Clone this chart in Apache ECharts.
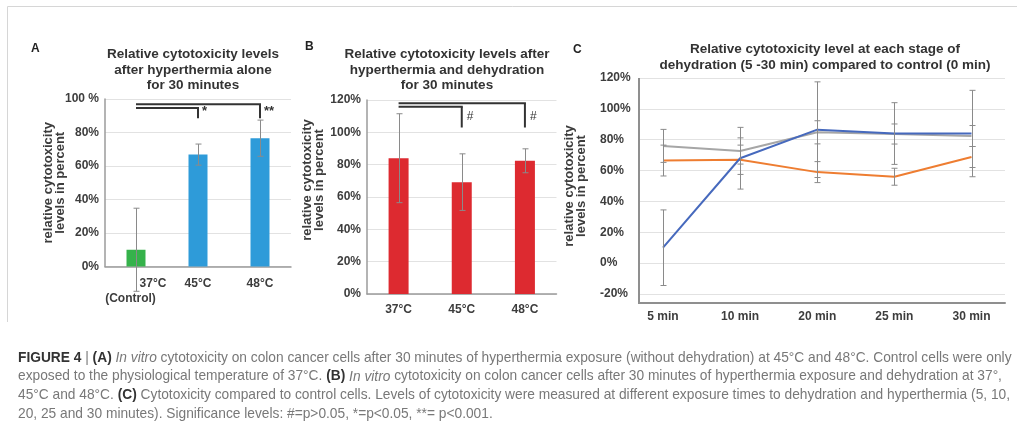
<!DOCTYPE html>
<html>
<head>
<meta charset="utf-8">
<script src="https://cdn.jsdelivr.net/npm/echarts@6/dist/echarts.min.js"></script>
<style>
  html, body { margin: 0; padding: 0; background: #fff; }
  #chart { width: 1017px; height: 430px; }
</style>
</head>
<body>
<div id="chart"></div>
<script>
// ---- Panel A: hyperthermia alone, 30 minutes ----
const tempsA = ['37°C\n(Control)', '45°C', '48°C'];
const meanA = [10, 66.8, 76.6];
const errA = [24.8, 6.3, 10.8];
const sigA = ['', '*', '**'];
const ticksA = ['0%', '20%', '40%', '60%', '80%', '100 %'];

// ---- Panel B: hyperthermia and dehydration, 30 minutes ----
const tempsB = ['37°C', '45°C', '48°C'];
const meanB = [84, 69.2, 82.4];
const errB = [27.5, 17.5, 7.4];
const sigB = ['', '#', '#'];
const ticksB = ['0%', '20%', '40%', '60%', '80%', '100%', '120%'];

// ---- Panel C: each dehydration stage vs control ----
const timesC = ['5 min', '10 min', '20 min', '25 min', '30 min'];
const blueC = [10, 68, 86.5, 84, 84];
const blueErrC = [24.5, 20, 31, 20, 28];
const orangeC = [66.5, 67, 59, 56, 68.8];
const orangeErrC = [10, 9.5, 6.8, 5.5, 6.8];
const grayC = [76, 72.7, 84.8, 83.7, 82.4];
const grayErrC = [10.7, 8.5, 7.5, 6.5, 6.8];
const ticksC = ['-20%', '0%', '20%', '40%', '60%', '80%', '100%', '120%'];

const FONT = '"Liberation Sans", Arial, sans-serif';
const TXT = '#3d3d3d';
const AXIS = '#9b9b9b';
const GRIDLINE = '#e2e2e2';
const ERR = '#8a8a8a';

// plot areas
const gA = { left: 105, top: 99, width: 186, height: 167.5 };
const gB = { left: 367, top: 100, width: 189.5, height: 194 };
const gCf = { left: 639, top: 78, width: 366, height: 216 };   // frame: gridlines + y axis
const gCd = { left: 663, top: 78, width: 308.5, height: 216 }; // data points
const C_AXIS_DROP = 9; // x axis line sits a little below the lowest gridline

function tickFormatter(labels, min, step) {
  return v => labels[Math.round((v - min) / step)] ?? '';
}

function valueAxis(gridIndex, min, max, labels, extra) {
  return Object.assign({
    gridIndex, type: 'value', min, max, interval: 20,
    axisLine: { show: true, lineStyle: { color: AXIS, width: 1.5 } },
    axisTick: { show: false },
    splitLine: { show: true, lineStyle: { color: GRIDLINE, width: 1 } },
    axisLabel: {
      formatter: tickFormatter(labels, min, 20),
      color: TXT, fontWeight: 'bold', fontSize: 12, fontFamily: FONT, margin: 6
    },
    nameLocation: 'middle',
    nameTextStyle: { color: TXT, fontWeight: 'bold', fontSize: 13, fontFamily: FONT, lineHeight: 12.5 }
  }, extra);
}

function categoryAxis(gridIndex, data, extra) {
  return Object.assign({
    gridIndex, type: 'category', data,
    axisLine: { show: true, lineStyle: { color: AXIS, width: 1.5 } },
    axisTick: { show: false },
    axisLabel: { color: TXT, fontWeight: 'bold', fontSize: 12, fontFamily: FONT, margin: 10, interval: 0 }
  }, extra);
}

// vertical error bars with small caps
function errorBars(axisIndex, means, errs, z) {
  return {
    type: 'custom', xAxisIndex: axisIndex, yAxisIndex: axisIndex, z: z || 5, clip: false, silent: true,
    data: means.map((m, i) => [i, m - errs[i], m + errs[i]]),
    encode: { x: 0, y: [1, 2] },
    renderItem(params, api) {
      const hi = api.coord([api.value(0), api.value(2)]);
      const lo = api.coord([api.value(0), api.value(1)]);
      const x = Math.round(hi[0]) + 0.5, w = 3;
      const st = { stroke: ERR, lineWidth: 1 };
      return {
        type: 'group', children: [
          { type: 'line', shape: { x1: x, y1: hi[1], x2: x, y2: lo[1] }, style: st },
          { type: 'line', shape: { x1: x - w, y1: hi[1], x2: x + w, y2: hi[1] }, style: st },
          { type: 'line', shape: { x1: x - w, y1: lo[1], x2: x + w, y2: lo[1] }, style: st }
        ]
      };
    }
  };
}

// significance brackets: category 0 compared with each marked category
function brackets(axisIndex, marks, yMax, geo) {
  const idx = marks.map((m, i) => (m ? i : -1)).filter(i => i >= 0);
  const far = Math.max(...idx);
  return {
    type: 'custom', xAxisIndex: axisIndex, yAxisIndex: axisIndex, z: 6, clip: false, silent: true,
    data: idx.map(i => [i, yMax]),
    encode: { x: 0, y: 1 },
    renderItem(params, api) {
      const i = api.value(0);
      const start = api.coord([0, yMax]);
      const end = api.coord([i, yMax]);
      const level = start[1] + geo.top + (i === far ? 0 : geo.gap);
      const dropEnd = start[1] + geo.drop;
      const st = { stroke: '#333', lineWidth: 2 };
      return {
        type: 'group', children: [
          { type: 'line', shape: { x1: start[0], y1: level, x2: end[0] + 1, y2: level }, style: st },
          { type: 'line', shape: { x1: end[0], y1: level, x2: end[0], y2: dropEnd }, style: st },
          {
            type: 'text', x: end[0] + geo.textDx, y: start[1] + geo.textY,
            style: {
              text: marks[i], fill: '#333', font: geo.font,
              align: 'left', verticalAlign: 'middle'
            }
          }
        ]
      };
    }
  };
}

const titleStyle = { color: '#333', fontWeight: 'bold', fontSize: 13.5, fontFamily: FONT, lineHeight: 15.5 };
const letterStyle = { color: '#222', fontWeight: 'bold', fontSize: 12, fontFamily: FONT };
const CAP_SIZE = 13.75;
const capStyle = {
  color: '#787878', fontWeight: 'normal', fontSize: CAP_SIZE, fontFamily: FONT, lineHeight: 18,
  rich: {
    b: { color: '#333', fontWeight: 'bold', fontSize: CAP_SIZE, fontFamily: FONT, lineHeight: 18 },
    i: { color: '#787878', fontWeight: 'normal', fontStyle: 'italic', fontSize: CAP_SIZE, fontFamily: FONT, lineHeight: 18 }
  }
};
const caption = [
  '{b|FIGURE 4} | {b|(A)} {i|In vitro} cytotoxicity on colon cancer cells after 30 minutes of hyperthermia exposure (without dehydration) at 45°C and 48°C. Control cells were only',
  'exposed to the physiological temperature of 37°C. {b|(B)} {i|In vitro} cytotoxicity on colon cancer cells after 30 minutes of hyperthermia exposure and dehydration at 37°,',
  '45°C and 48°C. {b|(C)} Cytotoxicity compared to control cells. Levels of cytotoxicity were measured at different exposure times to dehydration and hyperthermia (5, 10,',
  '20, 25 and 30 minutes). Significance levels: #=p>0.05, *=p<0.05, **= p<0.001.'
];

const option = {
  backgroundColor: '#fff',
  animation: false,
  title: [
    { text: 'A', left: 31, top: 43, padding: 0, textStyle: letterStyle },
    { text: 'B', left: 305, top: 41, padding: 0, textStyle: letterStyle },
    { text: 'C', left: 573, top: 44, padding: 0, textStyle: letterStyle },
    { text: 'Relative cytotoxicity levels\nafter hyperthermia alone\nfor 30 minutes', left: 193, top: 47, padding: 0, textAlign: 'center', textStyle: titleStyle },
    { text: 'Relative cytotoxicity levels after\nhyperthermia and dehydration\nfor 30 minutes', left: 447, top: 47, padding: 0, textAlign: 'center', textStyle: titleStyle },
    { text: 'Relative cytotoxicity level at each stage of\ndehydration (5 -30 min) compared to control (0 min)', left: 825, top: 42, padding: 0, textAlign: 'center', textStyle: titleStyle }
  ].concat(caption.map((t, k) => ({
    text: t, left: 18, top: 349 + k * 18.7, padding: 0, textStyle: capStyle
  }))),
  grid: [gA, gB, gCf, gCd].map(g => Object.assign({ containLabel: false }, g)),
  xAxis: [
    categoryAxis(0, tempsA, {
      axisLabel: {
        color: TXT, fontWeight: 'bold', fontSize: 12, fontFamily: FONT, margin: 10, interval: 0, lineHeight: 15,
        formatter: v => v.indexOf('\n') >= 0 ? v.split('\n').map((s, k) => `{l${k}|${s}}`).join('\n') : v,
        rich: {
          l0: { fontWeight: 'bold', fontSize: 12, fontFamily: FONT, color: TXT, lineHeight: 15, padding: [0, 0, 0, 34] },
          l1: { fontWeight: 'bold', fontSize: 12, fontFamily: FONT, color: TXT, lineHeight: 15, padding: [0, 11, 0, 0] }
        }
      }
    }),
    categoryAxis(1, tempsB),
    {
      gridIndex: 2, type: 'value', min: 0, max: 1, offset: C_AXIS_DROP,
      axisLine: { show: true, onZero: false, lineStyle: { color: '#8f8f8f', width: 2 } },
      axisTick: { show: false }, axisLabel: { show: false }, splitLine: { show: false }
    },
    categoryAxis(3, timesC, {
      boundaryGap: false,
      axisLine: { show: false },
      axisLabel: { color: TXT, fontWeight: 'bold', fontSize: 12, fontFamily: FONT, margin: 17, interval: 0 }
    })
  ],
  yAxis: [
    valueAxis(0, 0, 100, ticksA, { name: 'relative cytotoxicity\nlevels in percent', nameGap: 38, nameMoveOverlap: false }),
    valueAxis(1, 0, 120, ticksB, {
      name: 'relative cytotoxicity\nlevels in percent', nameGap: 22,
      nameTextStyle: { color: TXT, fontWeight: 'bold', fontSize: 13, fontFamily: FONT, lineHeight: 12.5, padding: [0, 0, 0, 34] }
    }),
    valueAxis(2, -20, 120, ticksC, {
      name: 'relative cytotoxicity\nlevels in percent', nameGap: 51,
      axisLine: { show: false },
      axisLabel: {
        formatter: tickFormatter(ticksC, -20, 20),
        color: TXT, fontWeight: 'bold', fontSize: 12, fontFamily: FONT, margin: 39, align: 'left'
      }
    }),
    { gridIndex: 3, type: 'value', min: -20, max: 120, interval: 20, show: false }
  ],
  series: [
    {
      type: 'bar', xAxisIndex: 0, yAxisIndex: 0, barWidth: 19,
      data: meanA.map((v, i) => ({ value: v, itemStyle: { color: i === 0 ? '#35b24b' : '#2e9bd9' } }))
    },
    errorBars(0, meanA, errA),
    brackets(0, sigA, 100, { top: 5.3, gap: 3.8, drop: 19.3, textDx: 4, textY: 12.5, font: 'bold 13px ' + FONT }),

    {
      type: 'bar', xAxisIndex: 1, yAxisIndex: 1, barWidth: 20,
      itemStyle: { color: '#dd2a30' }, data: meanB
    },
    errorBars(1, meanB, errB),
    brackets(1, sigB, 120, { top: 3.3, gap: 3.4, drop: 27.5, textDx: 5, textY: 16.7, font: '12px ' + FONT }),

    { type: 'line', xAxisIndex: 3, yAxisIndex: 3, data: grayC, showSymbol: false, z: 2, lineStyle: { color: '#a6a6a6', width: 2 }, itemStyle: { color: '#a6a6a6' } },
    { type: 'line', xAxisIndex: 3, yAxisIndex: 3, data: orangeC, showSymbol: false, z: 3, lineStyle: { color: '#ee7d31', width: 2 }, itemStyle: { color: '#ee7d31' } },
    { type: 'line', xAxisIndex: 3, yAxisIndex: 3, data: blueC, showSymbol: false, z: 4, lineStyle: { color: '#4669bd', width: 2 }, itemStyle: { color: '#4669bd' } },
    errorBars(3, grayC, grayErrC, 6),
    errorBars(3, orangeC, orangeErrC, 6),
    errorBars(3, blueC, blueErrC, 6)
  ],
  graphic: [
    // figure frame (top and left edges)
    { type: 'line', silent: true, shape: { x1: 7.5, y1: 6.5, x2: 1017, y2: 6.5 }, style: { stroke: '#d6d6d6', lineWidth: 1 } },
    { type: 'line', silent: true, shape: { x1: 7.5, y1: 6.5, x2: 7.5, y2: 322 }, style: { stroke: '#d6d6d6', lineWidth: 1 } },
    // panel C vertical axis reaching down to the lowered horizontal axis
    { type: 'line', silent: true, z: 10, shape: { x1: gCf.left, y1: gCf.top, x2: gCf.left, y2: gCf.top + gCf.height + C_AXIS_DROP + 1 }, style: { stroke: '#8f8f8f', lineWidth: 2 } }
  ]
};

const chart = echarts.init(document.getElementById('chart'), null, { renderer: 'canvas' });
chart.setOption(option);
</script>
</body>
</html>
